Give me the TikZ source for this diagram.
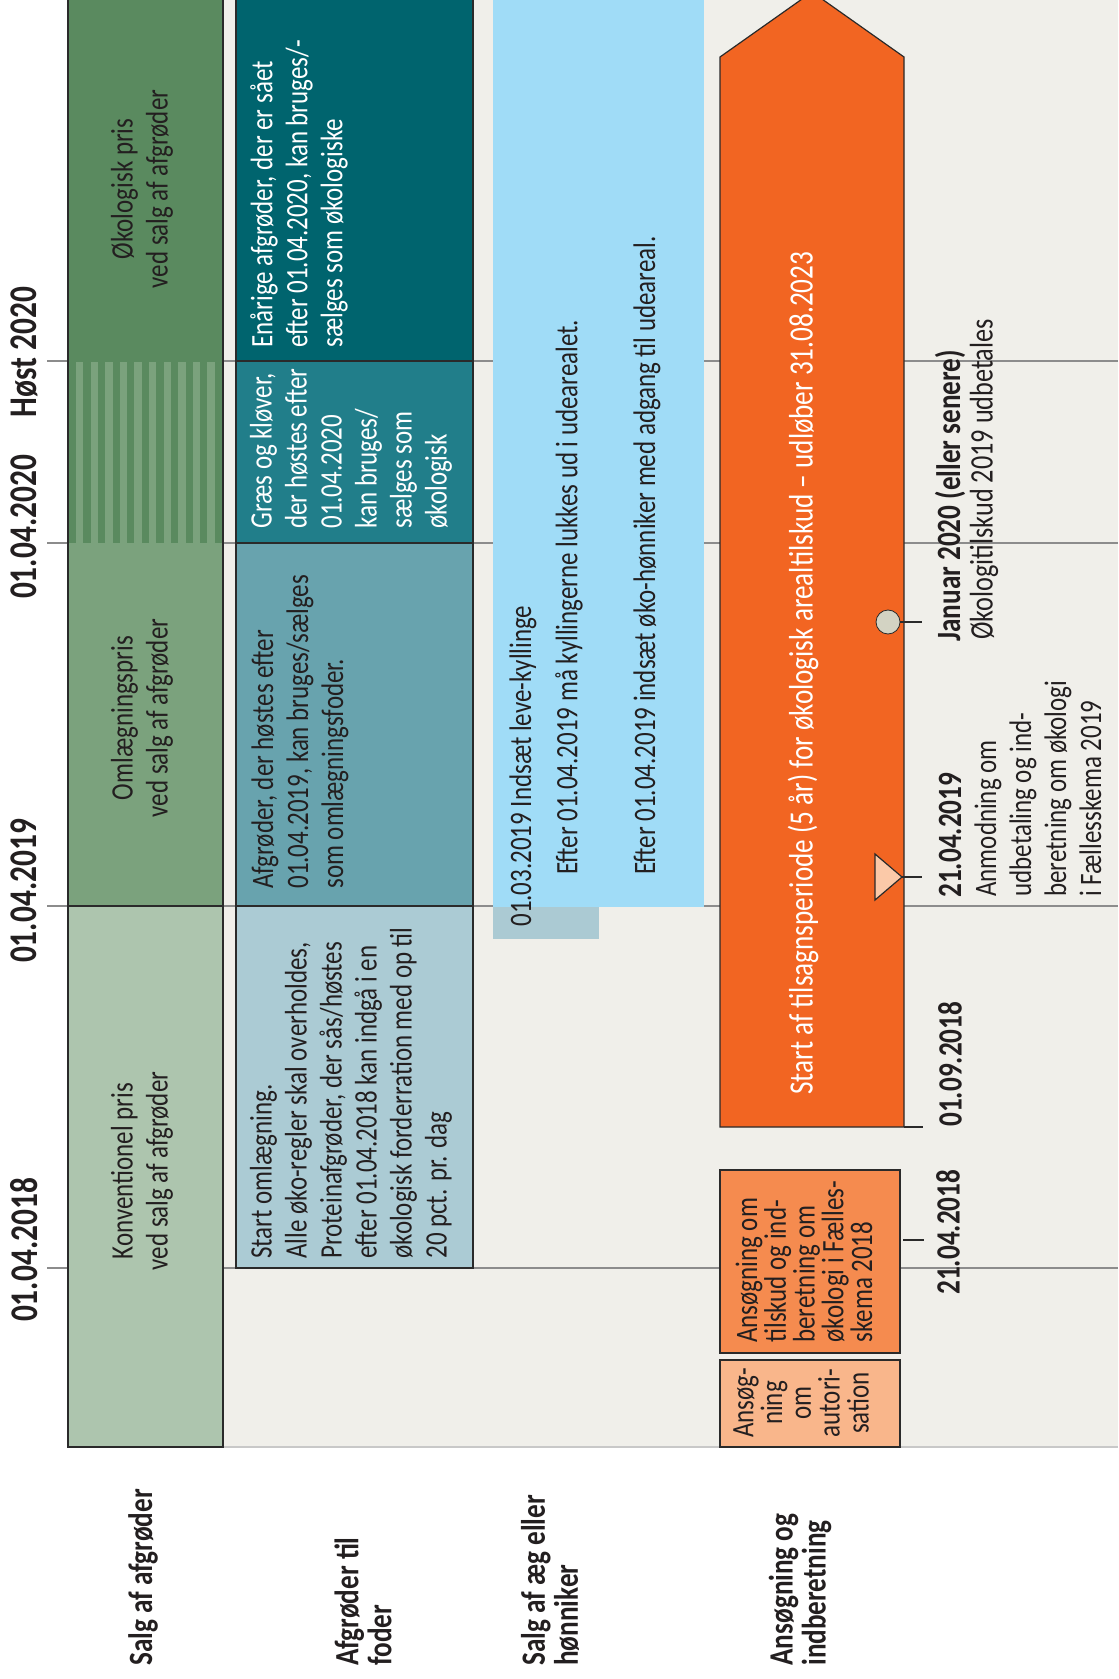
\documentclass[tikz,border=0pt]{standalone}
\usepackage{fontspec}
\setmainfont{Carlito}[FakeStretch=0.8]

\definecolor{bg}{HTML}{F0EFEA}
\definecolor{ink}{HTML}{231F20}
\definecolor{gridgrey}{HTML}{8C8C8C}
\definecolor{baseline}{HTML}{C8C8C8}
\definecolor{boxline}{HTML}{2A2A2A}
\definecolor{gdark}{HTML}{5A8A5F}
\definecolor{gmid}{HTML}{7BA27D}
\definecolor{glight}{HTML}{ADC5AE}
\definecolor{tdark}{HTML}{00646E}
\definecolor{tmid}{HTML}{217E8A}
\definecolor{tgrey}{HTML}{68A3AE}
\definecolor{tlight}{HTML}{ABCBD4}
\definecolor{skyblue}{HTML}{A0DCF7}
\definecolor{skygrey}{HTML}{ABCAD3}
\definecolor{orange}{HTML}{F26522}
\definecolor{orbox}{HTML}{F58B4F}
\definecolor{peach}{HTML}{F9B68B}
\definecolor{peachlight}{HTML}{FBC9A8}
\definecolor{dot}{HTML}{D3D3C3}

\begin{document}
\begin{tikzpicture}[x=0.5pt,y=-0.5pt]
\tikzstyle{txt}=[rotate=90, inner sep=0pt, align=left, text=ink, font=\fontsize{15.6}{17.5}\selectfont]
\tikzstyle{wtxt}=[txt, text=white]
\tikzstyle{tight}=[txt, font=\fontsize{15.6}{14.4}\selectfont]
\tikzstyle{date}=[rotate=90, inner sep=0pt, text=ink, font=\fontsize{19.6}{22}\selectfont\bfseries]
\tikzstyle{sdate}=[date, font=\fontsize{17}{17}\selectfont\bfseries]
\tikzstyle{rowlab}=[rotate=90, inner sep=0pt, align=left, text=ink, font=\fontsize{17}{16.5}\selectfont\bfseries]
\tikzstyle{box}=[draw=boxline, line width=0.6pt]
\tikzstyle{grid}=[draw=gridgrey, line width=0.6pt]

\useasboundingbox (0,0) rectangle (1118,1679);
\fill[bg] (68,0) rectangle (1118,1447);
\draw[draw=baseline, line width=1pt] (68,1447) -- (1118,1447);
\foreach \y in {361,543,906,1268}
  \draw[grid] (47,\y) -- (1118,\y);

\fill[gdark] (68,0) rectangle (223,543);
\foreach \i in {0,...,9}
  \fill[gmid] (76+14.6*\i,362) rectangle ++(7.3,181);
\fill[gmid] (68,543) rectangle (223,906);
\fill[glight] (68,906) rectangle (223,1447);
\draw[box] (68,-2) -- (68,1447) -- (223,1447) -- (223,-2) (68,906) -- (223,906);

\draw[box, fill=tdark] (236,-2) rectangle (473,361);
\draw[box, fill=tmid] (236,361) rectangle (473,543);
\draw[box, fill=tgrey] (236,543) rectangle (473,906);
\draw[box, fill=tlight] (236,906) rectangle (473,1268);

\fill[skyblue] (493,0) rectangle (704,907);
\fill[skygrey] (493,907) rectangle (599,939);

\draw[box, fill=orange] (720,1127) -- (720,57) -- (812,-8) -- (904,57) -- (904,1127) -- cycle;
\draw[box] (904,1127) -- (923,1127);
\draw[box, fill=peachlight] (875,854) -- (902,877) -- (875,900) -- cycle;
\draw[box] (902,877) -- (922,877);
\node[circle, draw=boxline, fill=dot, minimum size=12pt, inner sep=0pt] (pay) at (888,622) {};
\draw[box] (pay.east) -- (922,622);
\draw[box, fill=orbox] (720,1170) rectangle (900,1353);
\draw[box, fill=peach] (720,1360) rectangle (900,1447);
\draw[box] (903,1240) -- (924,1240);

\node[date] (h20) at (24,352) {Høst 2020};
\node[date] (d20) at (24,527) {01.04.2020};
\node[date] (d19) at (24,891) {01.04.2019};
\node[date] (d18) at (24,1250) {01.04.2018};

\node[txt, align=center] (oeko) at (142,189) {Økologisk pris\\ved salg af afgrøder};
\node[txt, align=center] (oml) at (142,718) {Omlægningspris\\ved salg af afgrøder};
\node[txt, align=center] (konv) at (142,1171) {Konventionel pris\\ved salg af afgrøder};

\node[wtxt, anchor=west] (enaar) at (299,348) {Enårige afgrøder, der er sået\\efter 01.04.2020, kan bruges/-\\sælges som økologiske};
\node[wtxt, anchor=west] (graes) at (351,529) {Græs og kløver,\\der høstes efter\\01.04.2020\\kan bruges/\\sælges som\\økologisk};
\node[txt, anchor=west] (afgr) at (300,889) {Afgrøder, der høstes efter\\01.04.2019, kan bruges/sælges\\som omlægningsfoder.};
\node[txt, anchor=west] (start) at (351,1259) {Start omlægning.\\Alle øko-regler skal overholdes,\\Proteinafgrøder, der sås/høstes\\efter 01.04.2018 kan indgå i en\\økologisk forderration med op til\\20 pct. pr. dag};

\node[txt, anchor=west] (lev) at (523,927) {01.03.2019 Indsæt leve-kyllinge};
\node[txt, anchor=west] (kyl) at (569,875) {Efter 01.04.2019 må kyllingerne lukkes ud i udearealet.};
\node[txt, anchor=west] (hoen) at (647,875) {Efter 01.04.2019 indsæt øko-hønniker med adgang til udeareal.};

\node[wtxt, anchor=west, font=\fontsize{17}{17.5}\selectfont] (tils) at (803,1095) {Start af tilsagnsperiode (5 år) for økologisk arealtilskud – udløber 31.08.2023};

\node[sdate, anchor=west] (jan) at (950,642) {Januar 2020 (eller senere)};
\node[txt, anchor=west, font=\fontsize{16.4}{17.5}\selectfont] (udbet) at (984,640) {Økologitilskud 2019 udbetales};
\node[sdate, anchor=west] (a19) at (950,898) {21.04.2019};
\node[txt, anchor=west] (anm) at (1038,897) {Anmodning om\\udbetaling og ind-\\beretning om økologi\\i Fællesskema 2019};
\node[sdate, anchor=west] (s18) at (950,1127) {01.09.2018};
\node[sdate, anchor=west] (a18) at (948,1295) {21.04.2018};

\node[tight, anchor=west] (anso) at (804,1343) {Ansøgning om\\tilskud og ind-\\beretning om\\økologi i Fælles-\\skema 2018};
\node[tight, align=center] (auto) at (801,1403) {Ansøg-\\ning\\om\\autori-\\sation};

\node[rowlab, anchor=west] (rsalg) at (143,1666) {Salg af afgrøder};
\node[rowlab, anchor=west] (rfoder) at (363,1666) {Afgrøder til\\foder};
\node[rowlab, anchor=west] (raeg) at (550,1666) {Salg af æg eller\\hønniker};
\node[rowlab, anchor=west] (rans) at (800,1666) {Ansøgning og\\indberetning};
\end{tikzpicture}
\end{document}
